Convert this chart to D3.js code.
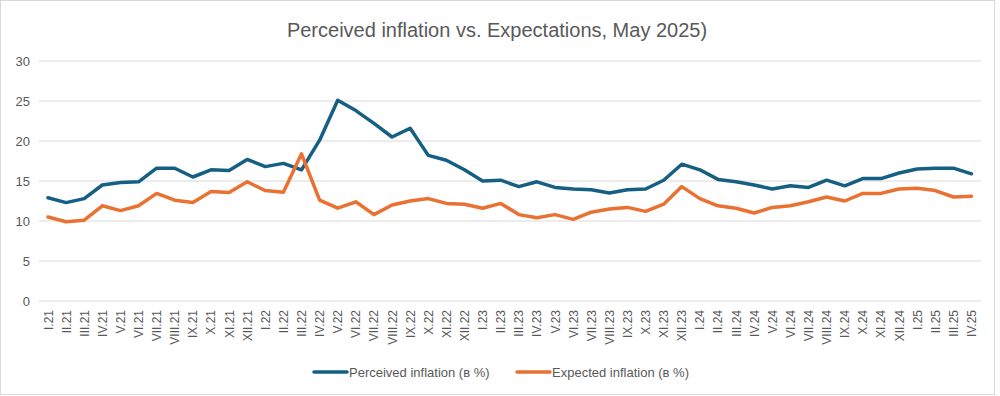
<!DOCTYPE html>
<html><head><meta charset="utf-8">
<script src="https://cdn.jsdelivr.net/npm/d3@7"></script>
<style>body{margin:0;background:#fff}svg{display:block}</style>
</head><body><svg id="c" width="1000" height="396"></svg>
<script>
const months = ["I.21","II.21","III.21","IV.21","V.21","VI.21","VII.21","VIII.21","IX.21","X.21","XI.21","XII.21",
"I.22","II.22","III.22","IV.22","V.22","VI.22","VII.22","VIII.22","IX.22","X.22","XI.22","XII.22",
"I.23","II.23","III.23","IV.23","V.23","VI.23","VII.23","VIII.23","IX.23","X.23","XI.23","XII.23",
"I.24","II.24","III.24","IV.24","V.24","VI.24","VII.24","VIII.24","IX.24","X.24","XI.24","XII.24",
"I.25","II.25","III.25","IV.25"];
const perceived = [12.9,12.3,12.8,14.5,14.8,14.9,16.6,16.6,15.5,16.4,16.3,17.7,
16.8,17.2,16.4,20.1,25.1,23.8,22.2,20.5,21.6,18.2,17.6,16.4,
15.0,15.1,14.3,14.9,14.2,14.0,13.9,13.5,13.9,14.0,15.1,17.1,
16.4,15.2,14.9,14.5,14.0,14.4,14.2,15.1,14.4,15.3,15.3,16.0,
16.5,16.6,16.6,15.9];
const expected = [10.5,9.9,10.1,11.9,11.3,11.9,13.45,12.6,12.3,13.7,13.55,14.9,
13.8,13.6,18.4,12.6,11.6,12.4,10.8,12.0,12.5,12.8,12.2,12.1,
11.6,12.2,10.8,10.4,10.8,10.2,11.1,11.5,11.7,11.2,12.1,14.3,
12.8,11.9,11.6,11.0,11.7,11.9,12.4,13.0,12.5,13.45,13.45,14.0,
14.1,13.8,13.0,13.1];
const yTicks = [0,5,10,15,20,25,30];
const seriesNames = ["Perceived inflation (в %)","Expected inflation (в %)"];
const colors = ["#156082","#e97132"];
const title = "Perceived inflation vs. Expectations, May 2025)";

const svg = d3.select("#c");
const font = "'Liberation Sans', Arial, sans-serif";
svg.append("rect").attr("x",0.5).attr("y",0.5).attr("width",994).attr("height",394)
  .attr("fill","#fff").attr("stroke","#d9d9d9");

const x = d3.scalePoint().domain(months).range([48,971.5]);
const y = d3.scaleLinear().domain([0,30]).range([301,61]);
const left = 39, right = 981;

// gridlines
svg.append("g").selectAll("line").data(yTicks).join("line")
  .attr("x1",left).attr("x2",right).attr("y1",d=>y(d)).attr("y2",d=>y(d))
  .attr("stroke","#d9d9d9").attr("stroke-width",1);

// y axis
const ya = svg.append("g").attr("transform",`translate(${left},0)`)
  .call(d3.axisLeft(y).tickValues(yTicks).tickSize(0).tickPadding(9));
ya.select(".domain").remove();
ya.selectAll("text").attr("font-family",font).attr("font-size",13).attr("fill","#595959");

// x axis
const xa = svg.append("g").attr("transform",`translate(0,${y(0)})`)
  .call(d3.axisBottom(x).tickSize(0).tickPadding(0));
xa.select(".domain").remove();
xa.selectAll("text").attr("font-family",font).attr("font-size",12).attr("fill","#595959")
  .attr("text-anchor","end").attr("dy",null)
  .attr("transform","translate(4,9) rotate(-90)");

// lines
const line = d3.line().x((d,i)=>x(months[i])).y(d=>y(d));
[perceived,expected].forEach((s,k)=>{
  svg.append("path").datum(s).attr("d",line).attr("fill","none")
    .attr("stroke",colors[k]).attr("stroke-width",3.5).attr("stroke-linejoin","round").attr("stroke-linecap","round");
});

// title
svg.append("text").attr("x",497).attr("y",37).attr("text-anchor","middle")
  .attr("font-family","'Liberation Sans Narrow', 'Arial Narrow', sans-serif").attr("font-size",20)
  .attr("fill","#595959").text(title);

// legend
const lg = [{x:314,name:seriesNames[0],c:colors[0]},{x:517,name:seriesNames[1],c:colors[1]}];
lg.forEach(l=>{
  svg.append("line").attr("x1",l.x).attr("x2",l.x+33).attr("y1",372).attr("y2",372)
    .attr("stroke",l.c).attr("stroke-width",3.5).attr("stroke-linecap","round");
  svg.append("text").attr("x",l.x+35).attr("y",377).attr("font-family",font).attr("font-size",13)
    .attr("fill","#595959").text(l.name);
});
</script></body></html>
